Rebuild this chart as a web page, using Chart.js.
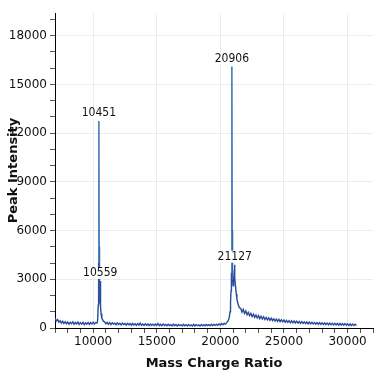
<!DOCTYPE html>
<html>
<head>
<meta charset="utf-8">
<script src="https://cdn.jsdelivr.net/npm/chart.js@4"></script>
<style>
  html, body { margin: 0; padding: 0; background: #fff; }
  #wrap { width: 375px; height: 375px; }
</style>
</head>
<body>
<div id="wrap"><canvas id="chart" width="375" height="375"></canvas></div>
<script>
// spectrum: [mass/charge, intensity]
const spectrum = [
  [7000,620],[7100,430],[7200,520],[7300,360],[7400,450],[7500,300],[7600,410],[7700,280],[7800,390],[7900,260],
  [8000,370],[8100,240],[8200,350],[8300,270],[8400,380],[8500,230],[8600,340],[8700,250],[8800,360],[8900,220],
  [9000,330],[9100,240],[9200,350],[9300,210],[9400,320],[9500,240],[9600,340],[9700,220],[9800,330],[9900,250],
  [10000,360],[10100,240],[10200,330],[10300,300],
  [10350,450],[10400,1400],[10430,4000],[10451,12750],[10470,5000],[10500,1800],[10530,1500],[10559,2900],
  [10580,1300],[10620,900],[10680,600],[10750,500],[10800,420],
  [10900,380],[11000,260],[11100,350],[11200,230],[11300,330],[11400,210],[11500,320],[11600,240],[11700,300],[11800,200],
  [11900,310],[12000,220],[12100,290],[12200,190],[12300,300],[12400,210],[12500,280],[12600,180],[12700,290],[12800,200],
  [12900,270],[13000,170],[13100,280],[13200,190],[13300,260],[13400,160],[13500,270],[13600,180],[13700,300],[13800,170],
  [13900,250],[14000,160],[14100,260],[14200,170],[14300,240],[14400,150],[14500,250],[14600,170],[14700,230],[14800,150],
  [14900,240],[15000,160],[15100,280],[15200,150],[15300,230],[15400,140],[15500,240],[15600,160],[15700,220],[15800,140],
  [15900,230],[16000,150],[16100,210],[16200,130],[16300,240],[16400,140],[16500,210],[16600,130],[16700,220],[16800,150],
  [16900,200],[17000,130],[17100,230],[17200,140],[17300,200],[17400,120],[17500,210],[17600,140],[17700,190],[17800,120],
  [17900,220],[18000,130],[18100,200],[18200,140],[18300,190],[18400,120],[18500,210],[18600,130],[18700,200],[18800,140],
  [18900,220],[19000,150],[19100,210],[19200,140],[19300,230],[19400,150],[19500,220],[19600,160],[19700,240],[19800,170],
  [19900,250],[20000,180],[20100,270],[20200,200],[20300,290],[20400,240],[20500,330],
  [20600,420],[20700,650],[20760,1000],[20800,1600],[20840,2300],[20870,3400],[20906,16100],[20930,6000],[20960,3000],
  [21000,2600],[21040,2900],[21080,3300],[21110,3600],[21127,3900],[21150,3100],[21200,2500],[21250,2100],[21300,1800],
  [21350,1600],[21400,1450],[21500,1250],
  [21600,1200],[21700,980],[21800,1150],[21900,900],[22000,1050],[22100,820],[22200,960],[22300,760],[22400,900],[22500,700],
  [22600,850],[22700,660],[22800,800],[22900,620],[23000,760],[23100,580],[23200,720],[23300,550],[23400,690],[23500,520],
  [23600,650],[23700,500],[23800,620],[23900,470],[24000,600],[24100,450],[24200,570],[24300,430],[24400,550],[24500,410],
  [24600,530],[24700,390],[24800,510],[24900,380],[25000,490],[25100,360],[25200,470],[25300,350],[25400,450],[25500,330],
  [25600,440],[25700,320],[25800,430],[25900,310],[26000,420],[26100,300],[26200,400],[26300,290],[26400,390],[26500,280],
  [26600,380],[26700,270],[26800,370],[26900,260],[27000,360],[27100,250],[27200,350],[27300,250],[27400,340],[27500,240],
  [27600,330],[27700,230],[27800,330],[27900,220],[28000,320],[28100,220],[28200,310],[28300,210],[28400,300],[28500,200],
  [28600,300],[28700,200],[28800,290],[28900,190],[29000,290],[29100,190],[29200,280],[29300,180],[29400,280],[29500,180],
  [29600,270],[29700,170],[29800,270],[29900,170],[30000,260],[30100,160],[30200,250],[30300,160],[30400,240],[30500,150],
  [30600,230],[30700,150]
];

// labelled peaks
const peakMz = [10451, 10559, 20906, 21127];
const peakIntensity = [12750, 2900, 16100, 3900];
const peakLabels = ['10451', '10559', '20906', '21127'];

const xMajor = [10000, 15000, 20000, 25000, 30000];
const yMajor = [0, 3000, 6000, 9000, 12000, 15000, 18000];
const yMinor = [1000, 2000, 4000, 5000, 7000, 8000, 10000, 11000, 13000, 14000, 16000, 17000, 19000];

const FONT = '"DejaVu Sans", sans-serif';

const peakLabelPlugin = {
    id: 'peakLabels',
    afterDatasetsDraw(chart) {
        const ctx = chart.ctx;
        const xs = chart.scales.x, ys = chart.scales.y;
        ctx.save();
        ctx.font = 'condensed 12px ' + FONT;
        ctx.textAlign = 'center';
        ctx.textBaseline = 'bottom';
        peakMz.forEach((mz, i) => {
            const px = xs.getPixelForValue(mz);
            const py = ys.getPixelForValue(peakIntensity[i]) - 2;
            const w = ctx.measureText(peakLabels[i]).width;
            ctx.fillStyle = '#fff';
            ctx.fillRect(px - w / 2 - 1, py - 12, w + 2, 12);
            ctx.fillStyle = '#111';
            ctx.fillText(peakLabels[i], px, py);
        });
        ctx.restore();
    }
};

new Chart(document.getElementById('chart'), {
    type: 'line',
    data: {
        datasets: [{
            data: spectrum.map(p => ({ x: p[0], y: p[1] })),
            borderColor: '#2a4b9c',
            segment: {
                borderColor: c => (c.p0.parsed.y > 4500 || c.p1.parsed.y > 4500) ? '#2d68b0' : '#2a4b9c'
            },
            borderWidth: 1.4,
            pointRadius: 0,
            tension: 0
        }]
    },
    options: {
        responsive: false,
        animation: false,
        layout: { padding: { top: 13, right: 0, left: 5, bottom: 0 } },
        plugins: { legend: { display: false }, tooltip: { enabled: false } },
        scales: {
            x: {
                type: 'linear',
                min: 7000,
                max: 32000,
                afterFit: s => { s.height = 47; },
                border: { color: '#000', width: 1 },
                grid: {
                    color: c => xMajor.includes(c.tick.value) ? '#ececec' : 'rgba(0,0,0,0)',
                    tickColor: '#555',
                    tickLength: 5
                },
                ticks: {
                    stepSize: 1000,
                    autoSkip: false,
                    maxRotation: 0,
                    padding: 2,
                    color: '#111',
                    font: { family: FONT, size: 12, style: 'condensed' },
                    callback: v => xMajor.includes(v) ? String(v) : ''
                },
                title: {
                    display: true,
                    text: 'Mass Charge Ratio',
                    color: '#111',
                    font: { family: FONT, size: 13, weight: 'bold', style: 'condensed' },
                    padding: { top: 0, bottom: 4 }
                }
            },
            y: {
                min: 0,
                max: 19400,
                afterFit: s => { s.width = 50; },
                afterBuildTicks: s => {
                    s.ticks = yMajor.concat(yMinor).sort((a, b) => a - b).map(v => ({ value: v }));
                },
                border: { color: '#000', width: 1 },
                grid: {
                    color: c => yMajor.includes(c.tick.value) ? '#ececec' : 'rgba(0,0,0,0)',
                    tickColor: '#555',
                    tickLength: 5
                },
                ticks: {
                    autoSkip: false,
                    padding: 3,
                    color: '#111',
                    font: { family: FONT, size: 12, style: 'condensed' },
                    callback: v => yMajor.includes(v) ? String(v) : ''
                },
                title: {
                    display: true,
                    text: 'Peak Intensity',
                    color: '#111',
                    font: { family: FONT, size: 13, weight: 'bold', style: 'condensed' },
                    padding: { top: 1, bottom: 0 }
                }
            }
        }
    },
    plugins: [peakLabelPlugin]
});
</script>
</body>
</html>
